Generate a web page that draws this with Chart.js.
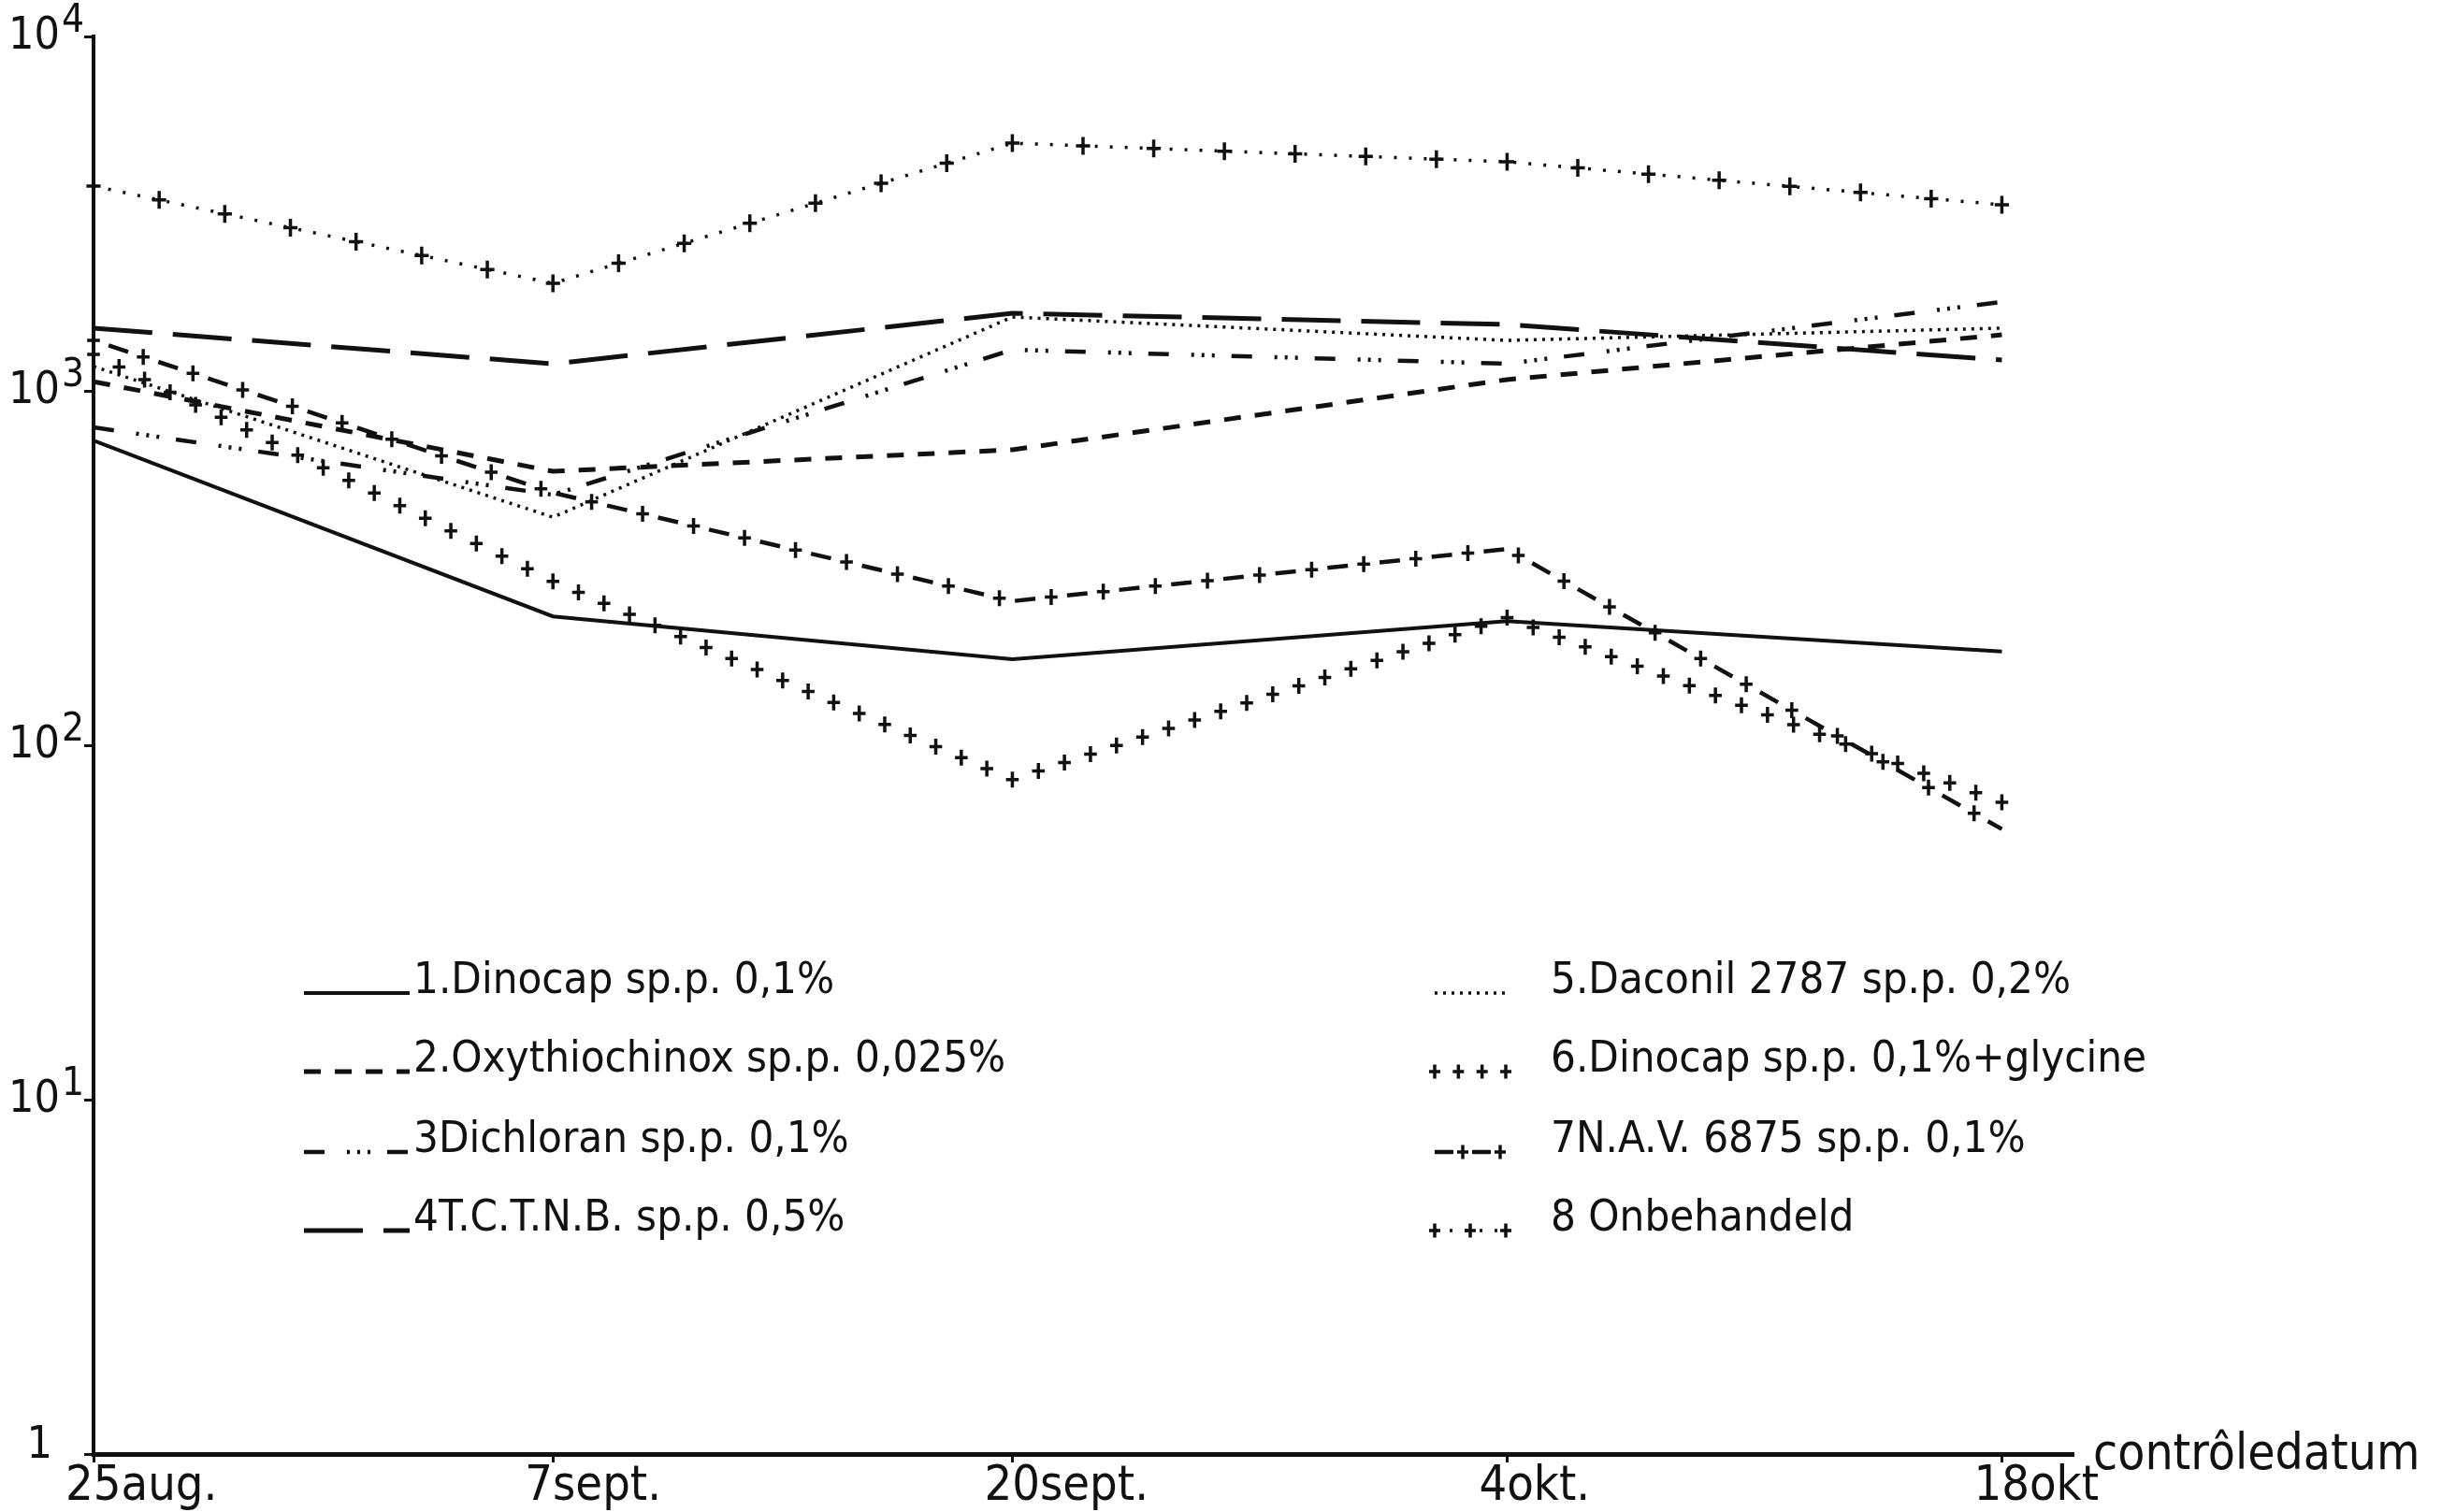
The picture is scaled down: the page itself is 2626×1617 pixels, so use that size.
<!DOCTYPE html>
<html>
<head>
<meta charset="utf-8">
<script src="https://cdn.jsdelivr.net/npm/chart.js@4.4.1/dist/chart.umd.min.js"></script>
<style>
html,body{margin:0;padding:0;background:#fff;}
canvas{display:block;}
</style>
</head>
<body>
<canvas id="c" width="2626" height="1617" style="width:2626px;height:1617px"></canvas>
<script>
// ---------- data ----------
const dateLabels = ['25aug.', '7sept.', '20sept.', '4okt.', '18okt'];
const dayOffsets = [0, 13, 26, 40, 54];           // days after 25 aug
const yTickValues = [1, 10, 100, 1000, 10000];
const yTickBases = ['1', '10', '10', '10', '10'];
const yTickExponents = ['', '1', '2', '3', '4'];
const xAxisTitle = 'contrôledatum';

const seriesLabels = [
  '1.Dinocap sp.p. 0,1%',
  '2.Oxythiochinox sp.p. 0,025%',
  '3Dichloran sp.p. 0,1%',
  '4T.C.T.N.B. sp.p. 0,5%',
  '5.Daconil 2787 sp.p. 0,2%',
  '6.Dinocap sp.p. 0,1%+glycine',
  '7N.A.V. 6875 sp.p. 0,1%',
  '8 Onbehandeld'
];
const dinocap       = [724, 231, 175, 224, 184];
const oxythiochinox = [1062, 593, 682, 1076, 1439];
const dichloran     = [789, 509, 1306, 1193, 1782];
const tctnb         = [1503, 1192, 1656, 1539, 1222];
const daconil       = [1172, 440, 1616, 1388, 1503];
const dinocapGly    = [1268, 290, 80, 229, 69];
const nav6875       = [1388, 516, 255, 358, 58];
const onbehandeld   = [3785, 2011, 5000, 4430, 3350];
const seriesValues = [dinocap, oxythiochinox, dichloran, tctnb, daconil, dinocapGly, nav6875, onbehandeld];

// ---------- styles ----------
const FAMILY = "'DejaVu Sans Condensed', 'Liberation Sans Narrow', 'DejaVu Sans', sans-serif";
const INK = '#111111';
const seriesStyles = [
  { borderWidth: 4,   borderDash: [] },
  { borderWidth: 5,   borderDash: [18, 15] },
  { borderWidth: 4.5, borderDash: [22, 24, 3, 8, 3, 8, 3, 18] },
  { borderWidth: 5,   borderDash: [63, 22] },
  { borderWidth: 3.5, borderDash: [3, 6] },
  { borderWidth: 0,   borderDash: [], showLine: false, marks: { mode: 'even', spacing: 30, size: 17 } },
  { borderWidth: 4.5, borderDash: [22, 34], borderDashOffset: 39, marks: { mode: 'walk', spacing: 56, offset: 0, size: 17 } },
  { borderWidth: 3.5, borderDash: [3, 13], marks: { mode: 'even', spacing: 74, size: 19 } }
];

function drawCross(ctx, x, y, size) {
  ctx.beginPath();
  ctx.moveTo(x - size * 0.4, y);
  ctx.lineTo(x + size * 0.4, y);
  ctx.moveTo(x, y - size / 2);
  ctx.lineTo(x, y + size / 2);
  ctx.stroke();
}

function drawMarks(ctx, pts, marks) {
  if (!marks) return;
  ctx.save();
  ctx.setLineDash([]);
  ctx.strokeStyle = INK;
  ctx.lineWidth = 3.5;
  ctx.lineCap = 'butt';
  if (marks.mode === 'even') {
    for (let i = 0; i < pts.length - 1; i++) {
      const a = pts[i], b = pts[i + 1];
      const len = Math.hypot(b.x - a.x, b.y - a.y);
      const n = Math.max(1, Math.round(len / marks.spacing));
      for (let k = (i === 0 ? 0 : 1); k <= n; k++) {
        const t = k / n;
        drawCross(ctx, a.x + (b.x - a.x) * t, a.y + (b.y - a.y) * t, marks.size);
      }
    }
  } else {
    let acc = 0, next = marks.offset || 0;
    for (let i = 0; i < pts.length - 1; i++) {
      const a = pts[i], b = pts[i + 1];
      const dx = b.x - a.x, dy = b.y - a.y, len = Math.hypot(dx, dy);
      while (next <= acc + len) {
        const t = (next - acc) / len;
        drawCross(ctx, a.x + dx * t, a.y + dy * t, marks.size);
        next += marks.spacing;
      }
      acc += len;
    }
  }
  ctx.restore();
}

const datasets = seriesValues.map((vals, i) => Object.assign({
  label: seriesLabels[i],
  data: vals.map((v, j) => ({ x: dayOffsets[j], y: v })),
  borderColor: INK,
  backgroundColor: INK,
  pointRadius: 0,
  pointHoverRadius: 0,
  fill: false,
  tension: 0,
  borderCapStyle: 'butt'
}, seriesStyles[i]));

const decorPlugin = {
  id: 'decor',
  afterDatasetsDraw(chart) {
    const ctx = chart.ctx;
    chart.data.datasets.forEach((ds, i) => {
      const meta = chart.getDatasetMeta(i);
      const pts = meta.data.map(p => ({ x: p.x, y: p.y }));
      drawMarks(ctx, pts, ds.marks);
    });
  },
  afterDraw(chart) {
    const ctx = chart.ctx;
    const ys = chart.scales.y, xs = chart.scales.x;
    ctx.save();
    ctx.fillStyle = INK;
    // y tick labels (base + raised exponent)
    yTickValues.forEach((v, i) => {
      const py = ys.getPixelForValue(v);
      ctx.textBaseline = 'middle';
      if (yTickExponents[i] === '') {
        ctx.font = `48px ${FAMILY}`;
        ctx.textAlign = 'right';
        ctx.fillText(yTickBases[i], 56, py - 8);
      } else {
        ctx.font = `48px ${FAMILY}`;
        ctx.textAlign = 'right';
        ctx.fillText(yTickBases[i], 64, py + 1);
        ctx.font = `42px ${FAMILY}`;
        ctx.textAlign = 'left';
        ctx.fillText(yTickExponents[i], 66, py - 16);
      }
    });
    // x axis title at the end of the axis
    ctx.font = `53px ${FAMILY}`;
    ctx.textAlign = 'left';
    ctx.textBaseline = 'middle';
    ctx.fillText(xAxisTitle, xs.right + 22, xs.top + 2);

    // legend, two columns
    const rowsY = [1062, 1146, 1232, 1316];
    const cols = [
      { x0: 325, x1: 438, tx: 442 },
      { x0: 1534, x1: 1610, tx: 1658 }
    ];
    chart.data.datasets.forEach((ds, i) => {
      const col = cols[Math.floor(i / 4)];
      const y = rowsY[i % 4];
      const pts = [{ x: col.x0, y: y }, { x: col.x1, y: y }];
      let dash = ds.borderDash || [];
      let dashOffset = ds.borderDashOffset || 0;
      let m = ds.marks ? Object.assign({}, ds.marks) : null;
      if (m) {
        m.size = 15;
        if (m.mode === 'even') {
          m.spacing = m.spacing > 40 ? 36 : 25;
        } else {
          dash = [20, 20];
          dashOffset = 0;
          m.offset = 30;
          m.spacing = 40;
        }
      }
      if (ds.showLine !== false) {
        ctx.save();
        ctx.strokeStyle = INK;
        ctx.lineWidth = ds.borderWidth;
        ctx.setLineDash(dash);
        ctx.lineDashOffset = dashOffset;
        ctx.beginPath();
        ctx.moveTo(col.x0, y);
        ctx.lineTo(col.x1, y);
        ctx.stroke();
        ctx.restore();
      }
      drawMarks(ctx, pts, m);
      ctx.fillStyle = INK;
      ctx.font = `47px ${FAMILY}`;
      ctx.textAlign = 'left';
      ctx.textBaseline = 'alphabetic';
      ctx.fillText(ds.label, col.tx, y);
    });
    ctx.restore();
  }
};

new Chart(document.getElementById('c'), {
  type: 'line',
  data: { datasets: datasets },
  options: {
    responsive: false,
    devicePixelRatio: 1,
    animation: false,
    events: [],
    layout: { padding: { top: 39, right: 410, left: 0, bottom: 0 } },
    plugins: { legend: { display: false }, tooltip: { enabled: false }, title: { display: false } },
    scales: {
      x: {
        type: 'linear',
        min: 0,
        max: 56,
        afterBuildTicks: s => { s.ticks = dayOffsets.map(v => ({ value: v })); },
        afterFit: s => { s.height = 62; },
        grid: { display: true, drawOnChartArea: false, drawTicks: true, tickLength: 9, color: INK, lineWidth: 3 },
        border: { display: true, color: INK, width: 5 },
        ticks: {
          color: INK,
          padding: 0,
          maxRotation: 0,
          autoSkip: false,
          align: 'start',
          labelOffset: -30,
          font: { family: FAMILY, size: 52, lineHeight: 1 },
          callback: v => { const k = dayOffsets.indexOf(v); return k >= 0 ? dateLabels[k] : ''; }
        }
      },
      y: {
        type: 'logarithmic',
        min: 1,
        max: 10000,
        afterBuildTicks: s => { s.ticks = yTickValues.map(v => ({ value: v })); },
        afterFit: s => { s.width = 100; },
        grid: { display: true, drawOnChartArea: false, drawTicks: true, tickLength: 10, color: INK, lineWidth: 3 },
        border: { display: true, color: INK, width: 4 },
        ticks: { display: false }
      }
    }
  },
  plugins: [decorPlugin]
});
</script>
</body>
</html>
